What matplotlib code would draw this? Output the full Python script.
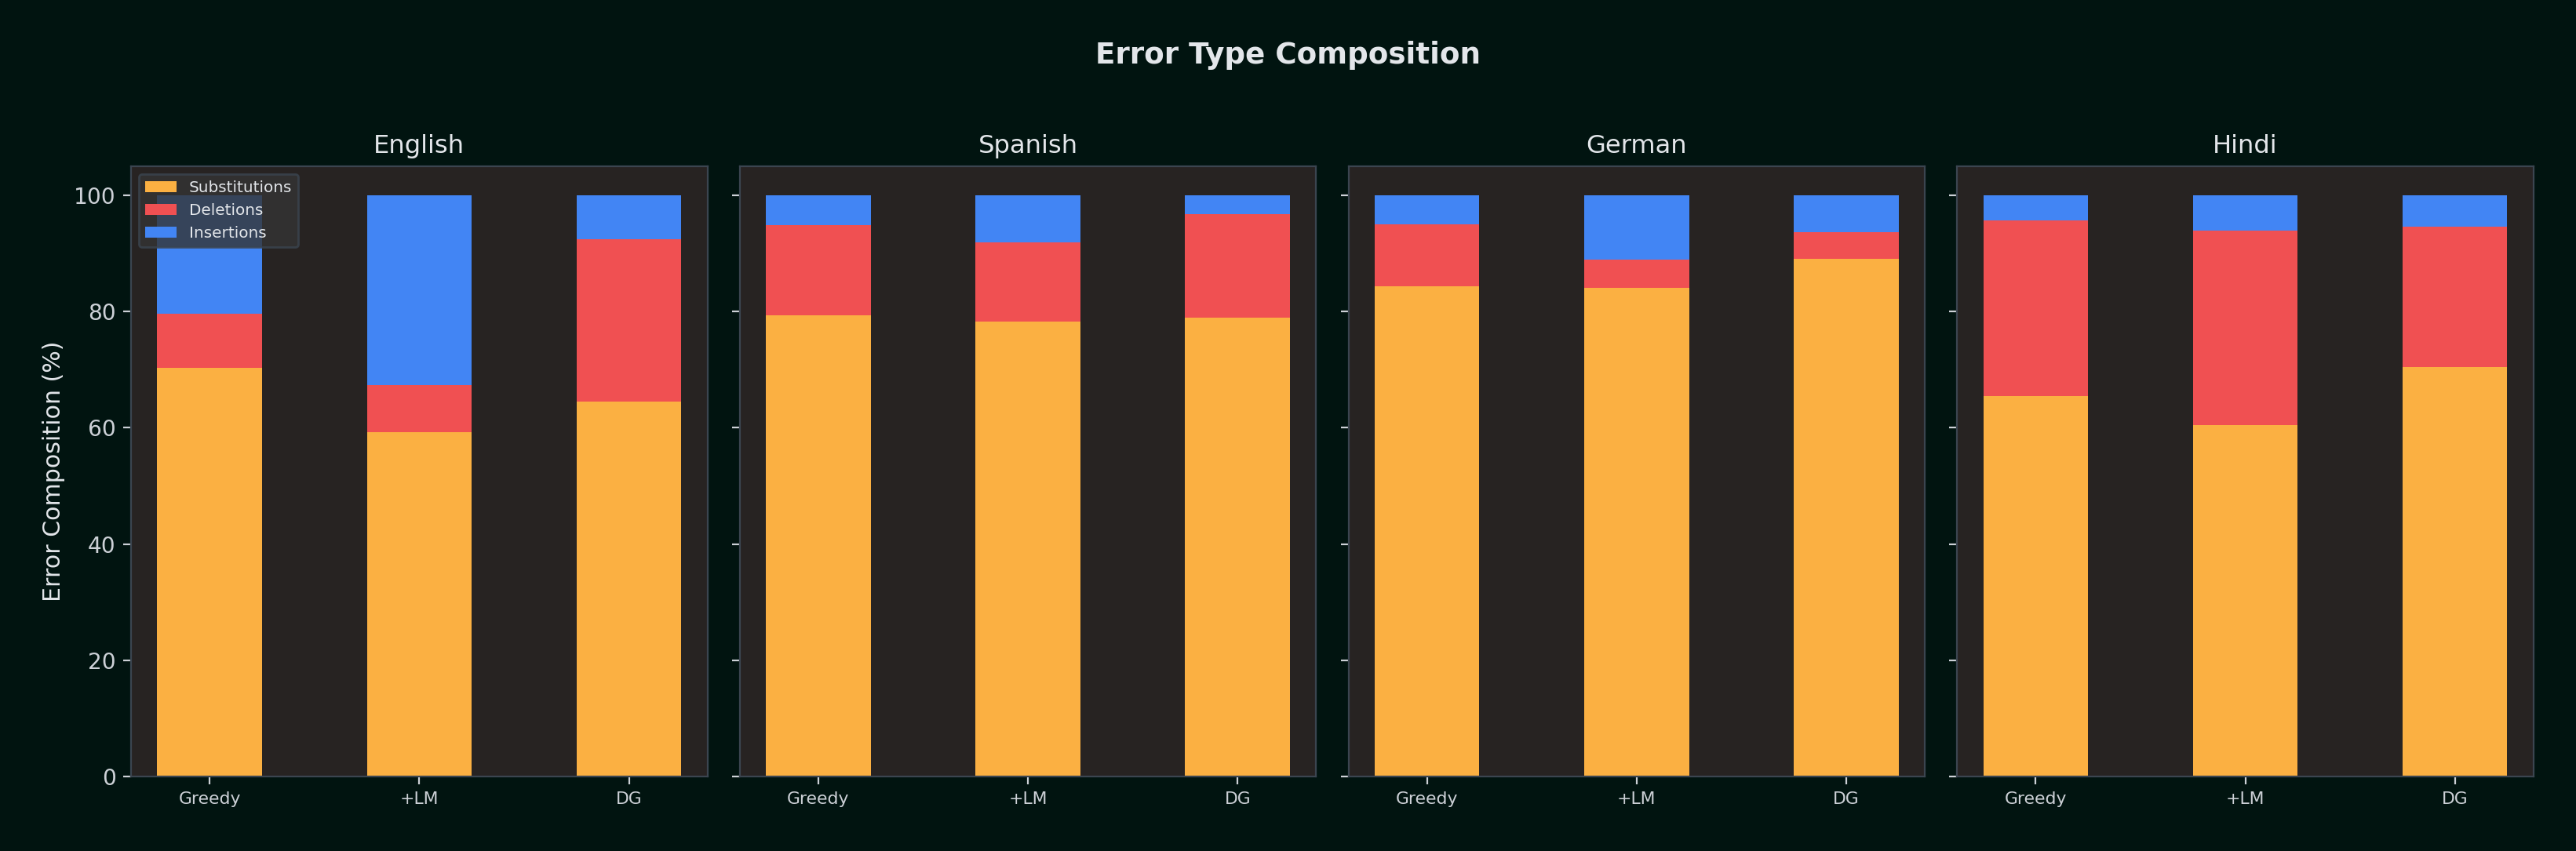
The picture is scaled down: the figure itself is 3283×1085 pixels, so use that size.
# Состав ошибок по типам для четырёх языков
import numpy as np
import matplotlib.pyplot as plt

languages = ['English', 'Spanish', 'German', 'Hindi']
methods = ['Greedy', '+LM', 'DG']
series_names = ['Substitutions', 'Deletions', 'Insertions']

# доли ошибок (%) для методов Greedy, +LM, DG
substitutions = {
    'English': [70.3, 59.2, 64.5],
    'Spanish': [79.3, 78.3, 78.9],
    'German': [84.4, 84.1, 89.1],
    'Hindi': [65.4, 60.4, 70.4],
}
deletions = {
    'English': [9.3, 8.2, 28.0],
    'Spanish': [15.6, 13.6, 17.9],
    'German': [10.6, 4.9, 4.5],
    'Hindi': [30.3, 33.5, 24.2],
}
insertions = {
    'English': [20.4, 32.6, 7.5],
    'Spanish': [5.1, 8.1, 3.2],
    'German': [5.0, 11.0, 6.4],
    'Hindi': [4.3, 6.1, 5.4],
}

colors = ['#FBB042', '#F05052', '#4285F4']
fig_bg = '#011410'
ax_bg = '#272322'
edge = '#3b4550'
text_col = '#e3e6ea'
tick_col = '#cdd1d7'

fig, axes = plt.subplots(1, 4, sharey=True, figsize=(3283 / 200, 1085 / 200), dpi=200)
fig.patch.set_facecolor(fig_bg)
fig.subplots_adjust(left=0.0509, right=0.9835, top=0.8046, bottom=0.0876, wspace=0.056)

x = np.arange(len(methods))
for ax, lang in zip(axes, languages):
    ax.set_facecolor(ax_bg)
    sub = np.array(substitutions[lang])
    dele = np.array(deletions[lang])
    ins = np.array(insertions[lang])
    ax.bar(x, sub, 0.5, color=colors[0], label=series_names[0], linewidth=0)
    ax.bar(x, dele, 0.5, bottom=sub, color=colors[1], label=series_names[1], linewidth=0)
    ax.bar(x, ins, 0.5, bottom=sub + dele, color=colors[2], label=series_names[2], linewidth=0)

    ax.set_title(lang, color=text_col, fontsize=11.6)
    ax.set_xticks(x)
    ax.set_xticklabels(methods, fontsize=7.9)
    ax.tick_params(axis='x', colors=tick_col)
    ax.tick_params(axis='y', colors=tick_col, labelsize=10.1)
    for s in ax.spines.values():
        s.set_color(edge)
    ax.set_ylim(0, 105)

axes[0].set_ylabel('Error Composition (%)', color=text_col, fontsize=10.8)

leg = axes[0].legend(loc='upper left', fontsize=7.2, facecolor='#343434',
                     edgecolor=edge, framealpha=0.8, labelcolor=text_col)

fig.suptitle('Error Type Composition', color=text_col, fontsize=13.4,
             fontweight='bold', y=0.935, va='center')

fig.savefig('out.png', dpi=200, facecolor=fig_bg)
